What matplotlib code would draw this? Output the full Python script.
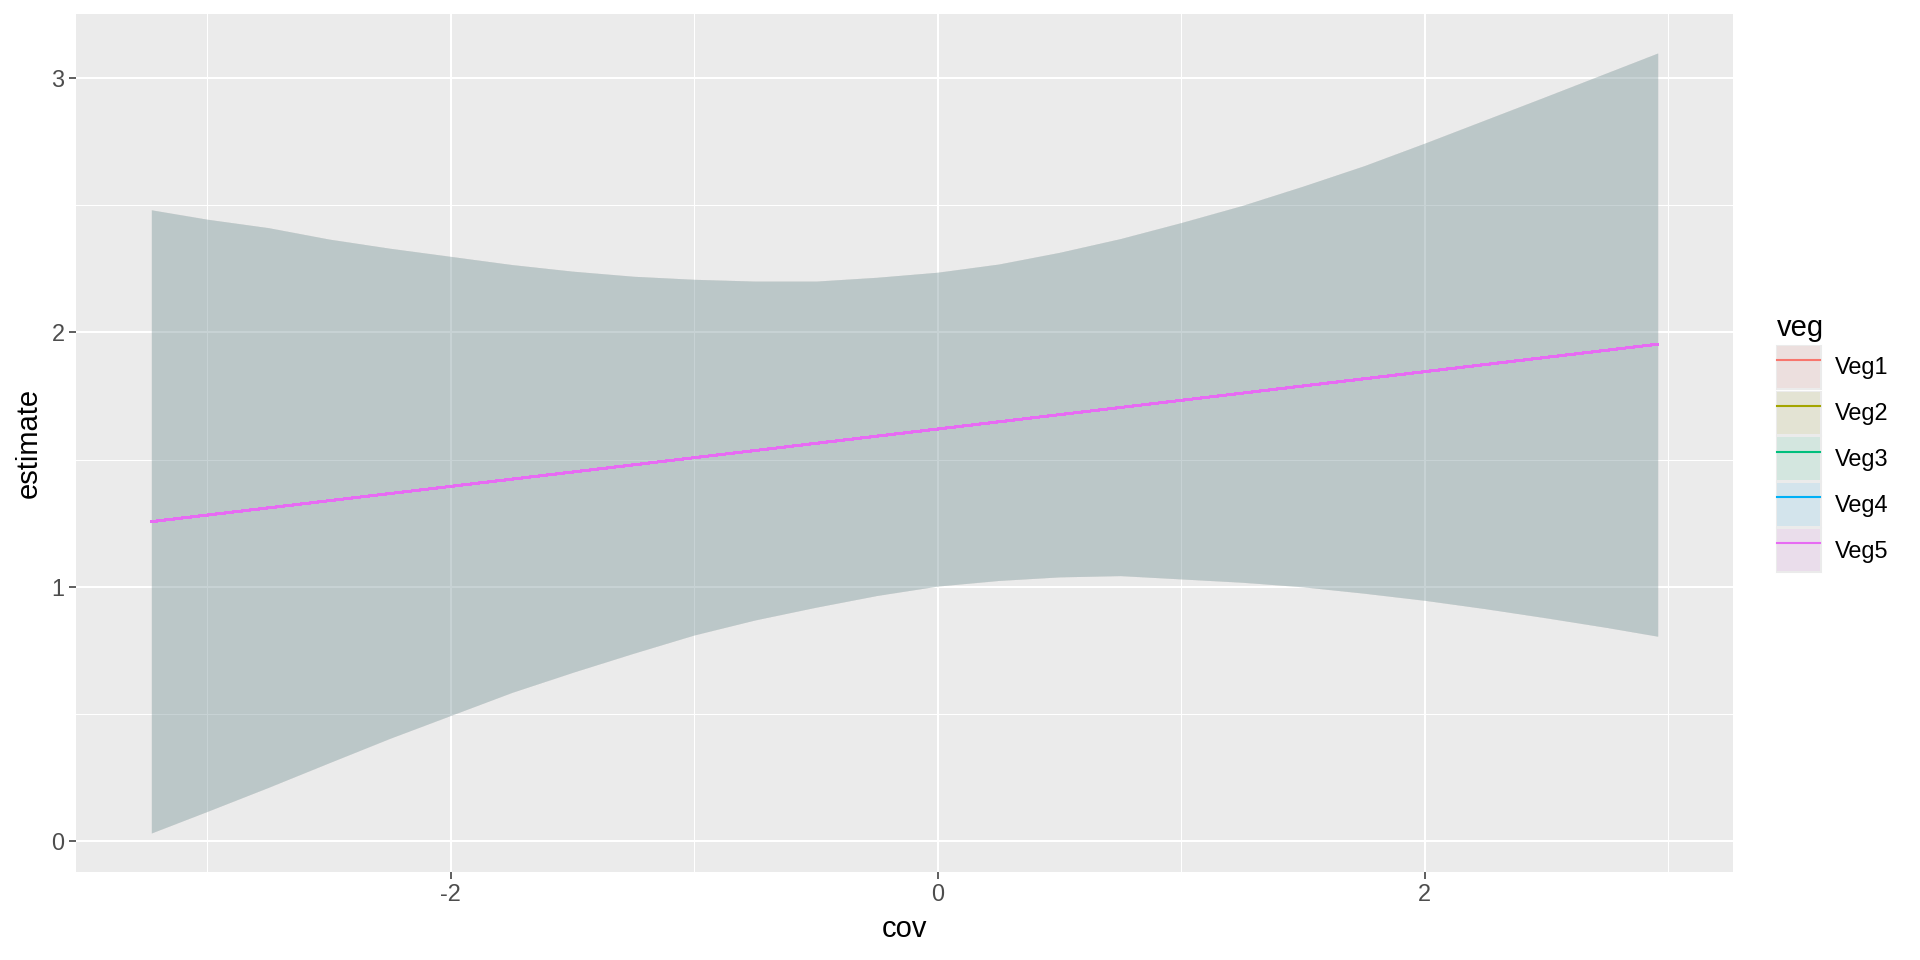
import matplotlib
matplotlib.use("Agg")
import matplotlib.pyplot as plt
from matplotlib.patches import Patch
from matplotlib.lines import Line2D
from matplotlib.legend_handler import HandlerTuple

plt.rcParams["font.family"] = ["Liberation Sans", "DejaVu Sans"]

# ----------------------------------------------------------------------
# data (all five veg groups overlap exactly)
# ----------------------------------------------------------------------
veg_names = ["Veg1", "Veg2", "Veg3", "Veg4", "Veg5"]
veg_colors = ["#F8766D", "#A3A500", "#00BF7D", "#00B0F6", "#E76BF3"]

cov = [-3.23, -3.0, -2.75, -2.5, -2.25, -2.0, -1.75, -1.5, -1.25, -1.0, -0.75,
       -0.5, -0.25, 0.0, 0.25, 0.5, 0.75, 1.0, 1.25, 1.5, 1.75, 2.0, 2.25,
       2.5, 2.75, 2.957]
upper = [2.481, 2.444, 2.411, 2.366, 2.330, 2.298, 2.266, 2.240, 2.220, 2.208, 2.201,
         2.201, 2.216, 2.236, 2.268, 2.314, 2.368, 2.431, 2.498, 2.574, 2.654, 2.743, 2.835,
         2.927, 3.020, 3.097]
lower = [0.033, 0.118, 0.212, 0.309, 0.405, 0.495, 0.585, 0.664, 0.739, 0.811, 0.870,
         0.920, 0.966, 1.003, 1.025, 1.039, 1.044, 1.031, 1.018, 1.000, 0.975, 0.947, 0.914,
         0.878, 0.840, 0.806]

line_cov = [-3.23, 0.0, 2.957]
estimate = [1.256, 1.620, 1.953]

x_major = [-2, 0, 2]
x_minor = [-3, -1, 1, 3]
y_major = [0, 1, 2, 3]
y_minor = [0.5, 1.5, 2.5]

# ----------------------------------------------------------------------
# plot
# ----------------------------------------------------------------------
fig = plt.figure(figsize=(19.2, 9.6), dpi=100)
ax = fig.add_axes([0.0396, 0.0917, 0.9026 - 0.0396, 0.9854 - 0.0917])
ax.set_facecolor("#EBEBEB")
for s in ax.spines.values():
    s.set_visible(False)

for c in veg_colors:
    ax.fill_between(cov, lower, upper, color=c, alpha=0.1, linewidth=0,
                    antialiased=False, zorder=2)
for c in veg_colors:
    ax.plot(line_cov, estimate, color=c, linewidth=1.5, antialiased=False, zorder=3)

# ggplot-like 5% expansion
xr = cov[-1] - cov[0]
ax.set_xlim(cov[0] - 0.05 * xr, cov[-1] + 0.05 * xr)
ymin, ymax = min(lower), max(upper)
yr = ymax - ymin
ax.set_ylim(ymin - 0.05 * yr, ymax + 0.05 * yr)

ax.set_xticks(x_major)
ax.set_xticks(x_minor, minor=True)
ax.set_yticks(y_major)
ax.set_yticks(y_minor, minor=True)
ax.set_xticklabels([str(v) for v in x_major])
ax.set_yticklabels([str(v) for v in y_major])
ax.set_axisbelow(True)
ax.grid(which="major", color="white", linewidth=1.5, zorder=0)
ax.grid(which="minor", color="white", linewidth=0.75, zorder=0)
ax.tick_params(which="major", length=5.3, width=1.1, color="#333333",
               labelsize=16.9, labelcolor="#4D4D4D", pad=3)
ax.tick_params(which="minor", length=0)

ax.set_xlabel("cov", fontsize=21, labelpad=6)
ax.set_ylabel("estimate", fontsize=21, labelpad=6)

# legend keys: grey key background, translucent fill, coloured line
handles = []
for c in veg_colors:
    handles.append((Patch(facecolor="#EBEBEB", edgecolor="#EBEBEB", linewidth=2.2),
                    Patch(facecolor=c, alpha=0.1, edgecolor="none"),
                    Line2D([0], [0], color=c, linewidth=1.5)))
leg = fig.legend(handles, veg_names, title="veg", loc="upper left",
                 bbox_to_anchor=(0.9255, 0.673), frameon=False,
                 fontsize=16.9, title_fontsize=21, handlelength=1.84,
                 handleheight=2.39, labelspacing=0.157, handletextpad=0.62,
                 borderaxespad=0, borderpad=0, alignment="left",
                 handler_map={tuple: HandlerTuple(ndivide=1, pad=0)})

fig.savefig("out.png", dpi=100, facecolor="white")
